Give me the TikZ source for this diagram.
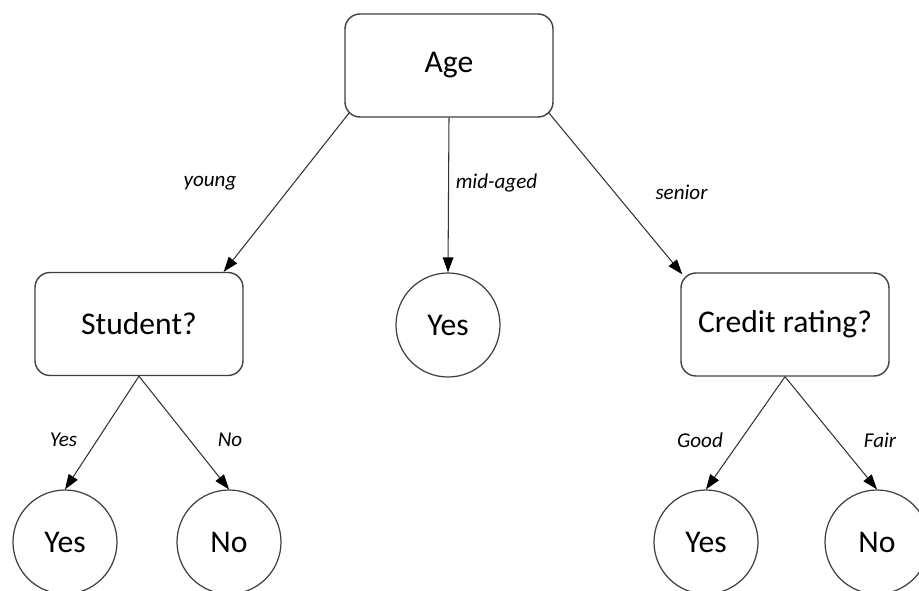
\documentclass[tikz,border=0pt]{standalone}
\usepackage{fontspec}
\setmainfont{Carlito}
\usetikzlibrary{arrows.meta}

\begin{document}
\begin{tikzpicture}[
  box/.style={draw=black!75, line width=0.8pt, rounded corners=0.3cm,
    minimum width=4.16cm, minimum height=2.06cm, font=\fontsize{18}{22}\selectfont},
  leaf/.style={draw=black!75, line width=0.7pt, circle, minimum size=2.08cm,
    inner sep=0pt, font=\fontsize{18}{22}\selectfont},
  edge/.style={-{Triangle[length=8.5pt, width=6pt, color=black]}, draw=black!80, line width=0.6pt},
  cond/.style={font=\fontsize{12}{14}\selectfont\itshape}
]
  \useasboundingbox (0, 0) rectangle (18.38, -11.8);
  \clip (0, 0) rectangle (18.38, -11.8);

  \node (age) at (8.98, -1.31) [box] {Age};
  \node (student) at (2.78, -6.48) [box] {Student?};
  \node (credit) at (15.70, -6.49) [box] {Credit rating?};
  \node (mid) at (8.96, -6.50) [leaf] {Yes};
  \node (yesl) at (1.30, -10.84) [leaf] {Yes};
  \node (nol) at (4.58, -10.84) [leaf] {No};
  \node (yesr) at (14.12, -10.84) [leaf] {Yes};
  \node (nor) at (17.54, -10.84) [leaf] {No};

  \draw[edge] ([shift={(0.1, 0.1)}]age.south west) -- ([xshift=-0.4cm]student.north east);
  \draw[edge] (age.south) -- (mid.north);
  \draw[edge] ([shift={(-0.1, 0.1)}]age.south east) -- ([shift={(0.04, -0.04)}]credit.north west);
  \draw[edge] (student.south) -- (yesl.north);
  \draw[edge] (student.south) -- (nol.north);
  \draw[edge] (credit.south) -- (yesr.north);
  \draw[edge] (credit.south) -- (nor.north);

  \node (young) at (4.20, -3.66) [cond] {young};
  \node (midaged) at (9.93, -3.66) [cond] {mid-aged};
  \node (senior) at (13.63, -3.84) [cond] {senior};
  \node (isyes) at (1.27, -8.80) [cond] {Yes};
  \node (isno) at (4.60, -8.80) [cond] {No};
  \node (good) at (14.00, -8.80) [cond] {Good};
  \node (fair) at (17.60, -8.80) [cond] {Fair};
\end{tikzpicture}
\end{document}
